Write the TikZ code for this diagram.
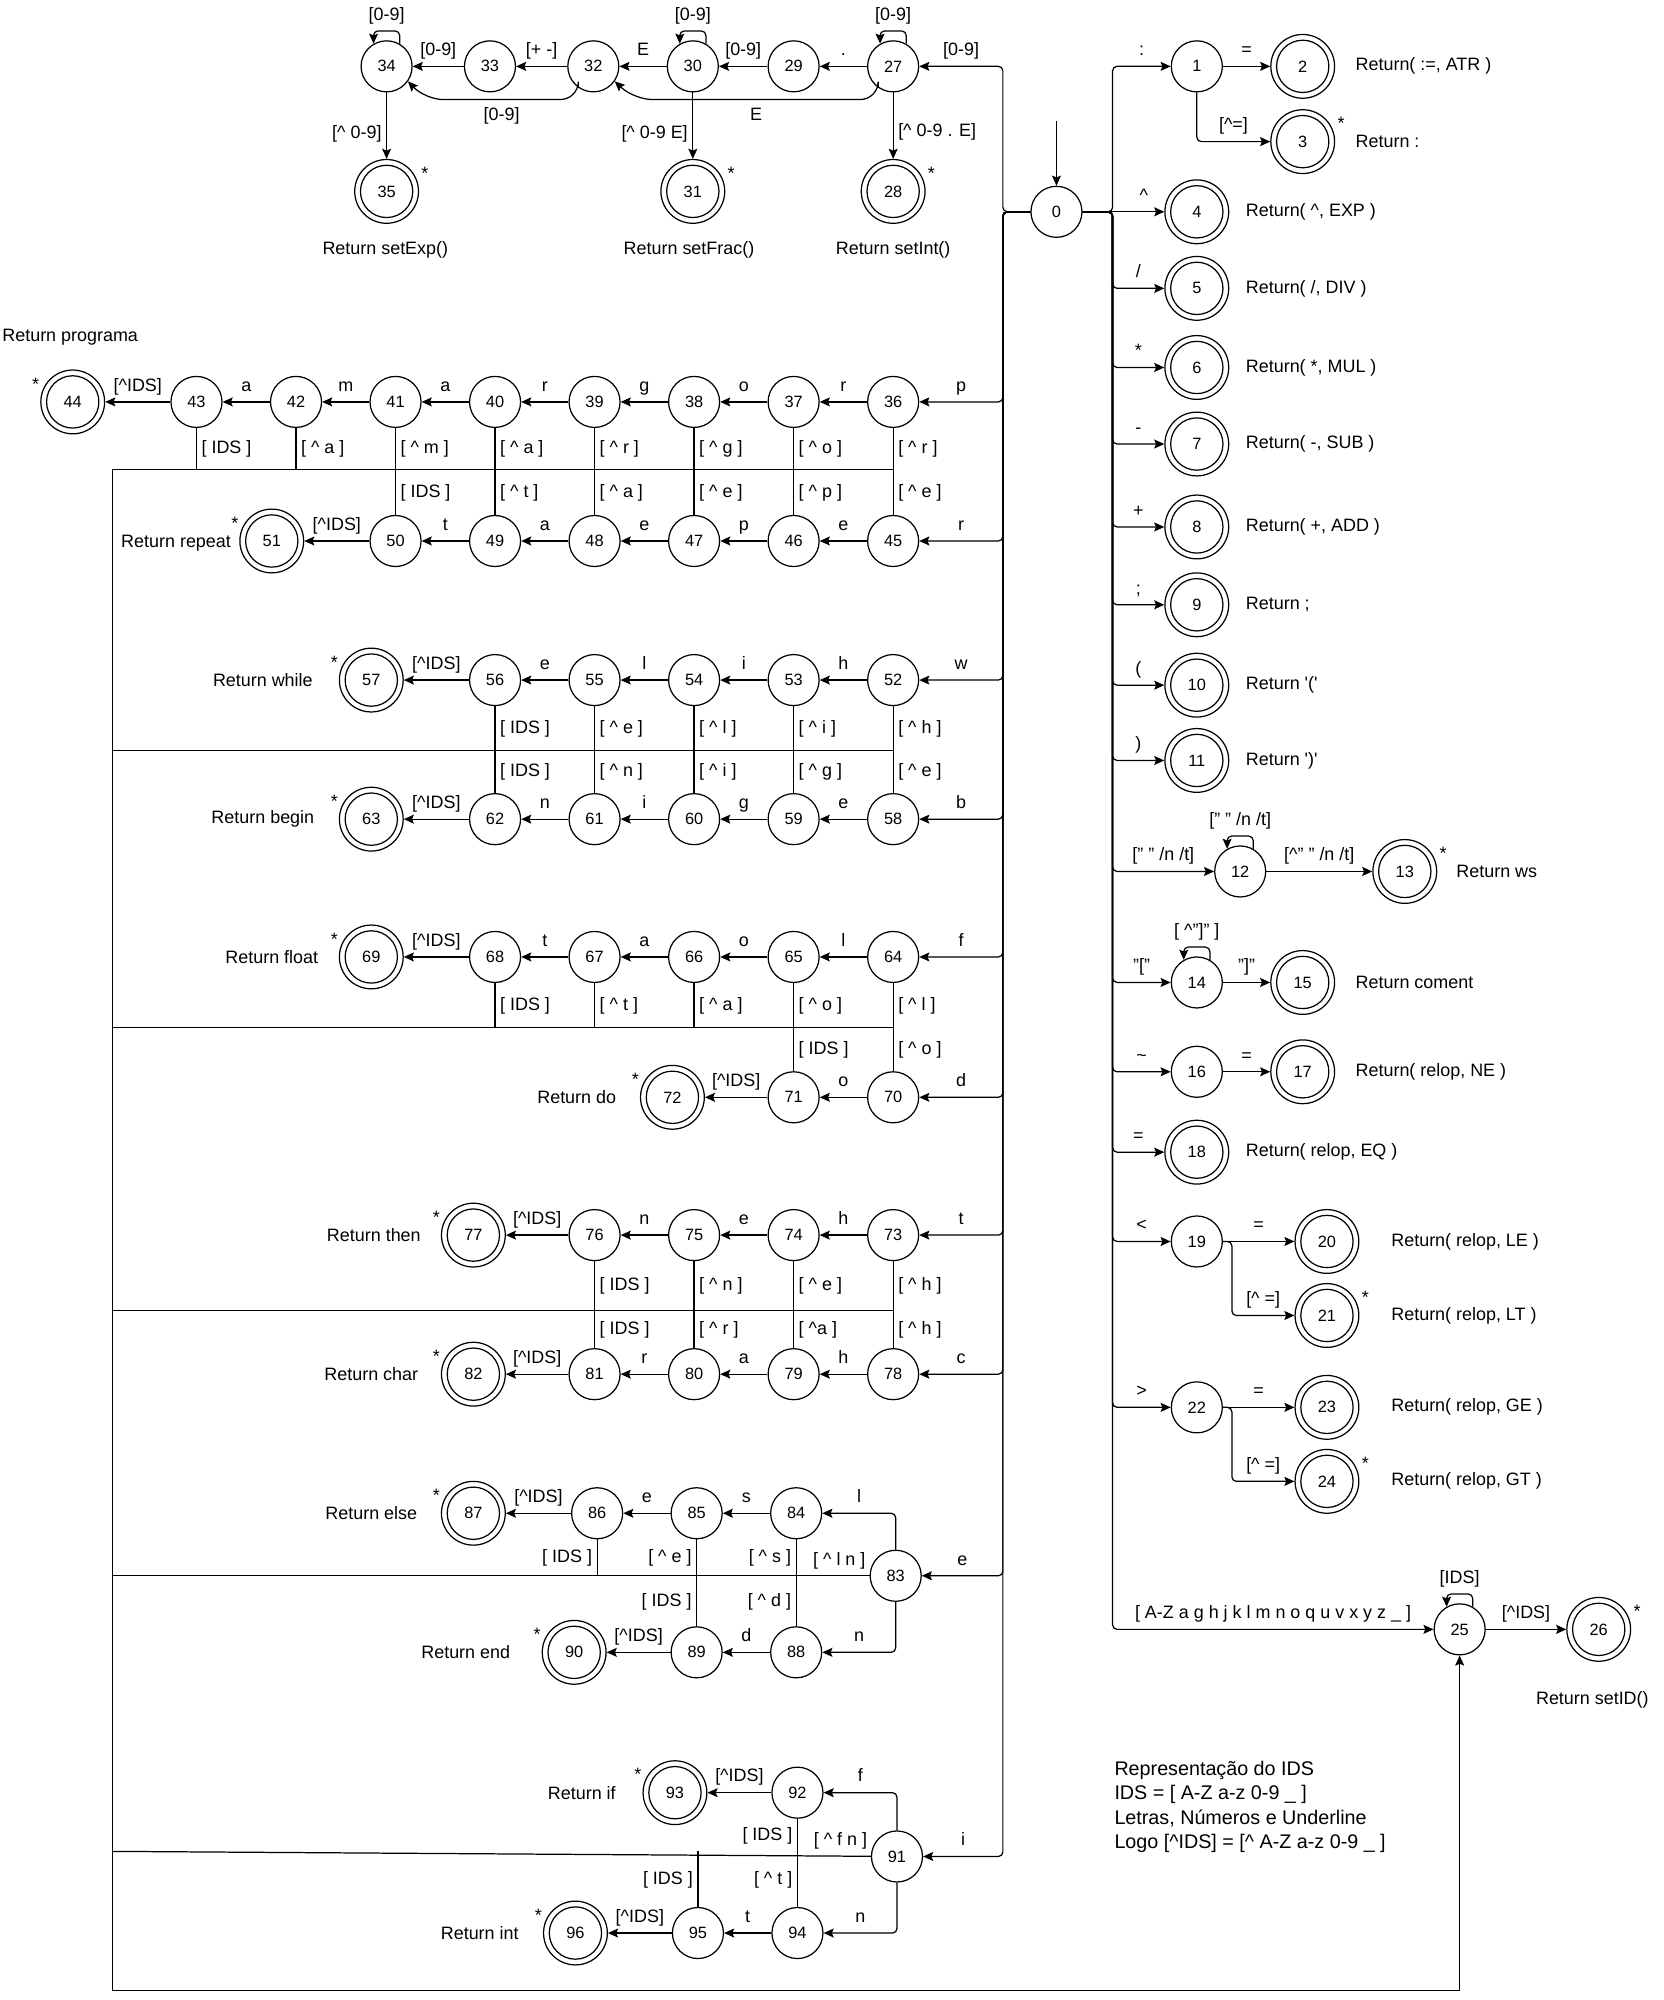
\documentclass[tikz,border=0pt]{standalone}
\usepackage{fontspec}
\setmainfont{Liberation Sans}
\usetikzlibrary{arrows.meta,calc}
\newcommand{\crt}{\textasciicircum}
\newcommand{\nt}[1]{[ \textasciicircum{} #1 ]}
\tikzset{
  st/.style={circle,draw,minimum size=0.8cm,inner sep=0pt,font=\fontsize{7.3}{8}\selectfont},
  acc/.style={st,minimum size=1cm,path picture={\draw (path picture bounding box.center) circle (0.41cm);}},
  arr/.style={-{Stealth[length=4.5pt,width=4pt,inset=0.8pt]}},
  tk/.style={arr,rounded corners=2pt},
  lab/.style={font=\fontsize{8}{9}\selectfont,inner sep=2pt,text height=6pt,text depth=1.5pt},
  la/.style={lab,above=1pt},
  lb/.style={lab,below=1pt},
  lr/.style={lab,right},
  ll/.style={lab,left},
  txt/.style={font=\fontsize{8}{9}\selectfont,inner sep=0pt},
  astk/.style={font=\fontsize{8}{9}\selectfont,inner sep=0pt}
}
\begin{document}
\begin{tikzpicture}[x=0.02cm,y=-0.02cm,line width=0.55pt]
\useasboundingbox (0,0) rectangle (1304,1567.5);
% states
\node[st] (n0) at (828,166) {0};
\foreach \n/\x in {27/700,29/622,30/543,32/465,33/384,34/303} \node[st] (n\n) at (\x,52) {\n};
\foreach \n/\x in {28/700,31/543,35/303} \node[acc] (n\n) at (\x,150) {\n};
\node[st] (n1) at (938,52) {1};
\node[acc] (n2) at (1021,52) {2};
\node[acc] (n3) at (1021,111) {3};
\foreach \n/\y in {4/166,5/226,6/288,7/348,8/413,9/474,10/537,11/596,18/903} \node[acc] (n\n) at (938,\y) {\n};
\node[st] (n12) at (972,683) {12};
\node[acc] (n13) at (1101,683) {13};
\node[st] (n14) at (938,770) {14};
\node[acc] (n15) at (1021,770) {15};
\node[st] (n16) at (938,840) {16};
\node[acc] (n17) at (1021,840) {17};
\node[st] (n19) at (938,973) {19};
\node[acc] (n20) at (1040,973) {20};
\node[acc] (n21) at (1040,1031) {21};
\node[st] (n22) at (938,1103) {22};
\node[acc] (n23) at (1040,1103) {23};
\node[acc] (n24) at (1040,1161) {24};
\node[st] (n25) at (1144,1277) {25};
\node[acc] (n26) at (1253,1277) {26};
\foreach \n/\x in {36/700,37/622,38/544,39/466,40/388,41/310,42/232,43/154} \node[st] (n\n) at (\x,315) {\n};
\foreach \n/\x in {45/700,46/622,47/544,48/466,49/388,50/310} \node[st] (n\n) at (\x,424) {\n};
\foreach \n/\x in {52/700,53/622,54/544,55/466,56/388} \node[st] (n\n) at (\x,533) {\n};
\foreach \n/\x in {58/700,59/622,60/544,61/466,62/388} \node[st] (n\n) at (\x,642) {\n};
\foreach \n/\x in {64/700,65/622,66/544,67/466,68/388} \node[st] (n\n) at (\x,750) {\n};
\foreach \n/\x in {70/700,71/622} \node[st] (n\n) at (\x,860) {\n};
\foreach \n/\x in {73/700,74/622,75/544,76/466} \node[st] (n\n) at (\x,968) {\n};
\foreach \n/\x in {78/700,79/622,80/544,81/466} \node[st] (n\n) at (\x,1077) {\n};
\foreach \n/\x in {84/624,85/546,86/468} \node[st] (n\n) at (\x,1186) {\n};
\node[st] (n83) at (702,1235) {83};
\foreach \n/\x in {88/624,89/546} \node[st] (n\n) at (\x,1295) {\n};
\node[st] (n92) at (625,1405) {92};
\node[st] (n91) at (703,1455) {91};
\foreach \n/\x in {94/625,95/547} \node[st] (n\n) at (\x,1515) {\n};
\foreach \n/\x/\y in {44/57/315,51/213/424,57/291/533,63/291/642,69/291/750,72/527/860,77/371/968,82/371/1077,87/371/1186,90/450/1295,93/529/1405,96/451/1515}
  \node[acc] (n\n) at (\x,\y) {\n};
% asterisks
\foreach \n in {44,51,57,63,69,72,77,82,87,90,93,96} \node[astk] (s\n) at ($(n\n)+(-29,-14)$) {*};
\foreach \n in {35,31,28,3,13,21,24,26} \node[astk] (s\n) at ($(n\n)+(30,-14)$) {*};
% entry and trunks
\coordinate (ini) at (828,95);
\coordinate (tl) at (786,166);
\coordinate (tr) at (872,166);
\draw[arr] (ini) -- (n0);
\foreach \n/\t in {27/{[0-9]},36/p,45/r,52/w,58/b,64/f,70/d,73/t,78/c,83/e,91/i}
  \draw[tk] (n0) -- (tl) |- (n\n) node[la,pos=0.75] {\t};
\draw[arr] (n0) -- node[la,pos=0.75] {\crt} (n4);
\foreach \n/\t in {1/:,5/{/},6/*,7/-,8/+,9/;,10/{(},11/{)},12/{[" " /n /t]},14/{"["},16/{\textasciitilde},18/=,19/<,22/>,25/{[ A-Z a g h j k l m n o q u v x y z \_ ]}}
  \draw[tk] (n0) -- (tr) |- (n\n) node[la,pos=0.75] {\t};
% straight transitions
\foreach \a/\b/\t in {27/29/., 29/30/{[0-9]}, 30/32/E, 32/33/{[+ -]}, 33/34/{[0-9]}, 1/2/=, 12/13/{[\crt" " /n /t]}, 14/15/{"]"}, 16/17/=, 19/20/=, 22/23/=, 25/26/{[\crt IDS]}}
  \draw[arr] (n\a) -- node[la] {\t} (n\b);
\foreach \a/\b/\t in {36/37/r,37/38/o,38/39/g,39/40/r,40/41/a,41/42/m,42/43/a,43/44/{[\crt IDS]},
  45/46/e,46/47/p,47/48/e,48/49/a,49/50/t,50/51/{[\crt IDS]},
  52/53/h,53/54/i,54/55/l,55/56/e,56/57/{[\crt IDS]},
  58/59/e,59/60/g,60/61/i,61/62/n,62/63/{[\crt IDS]},
  64/65/l,65/66/o,66/67/a,67/68/t,68/69/{[\crt IDS]},
  70/71/o,71/72/{[\crt IDS]},
  73/74/h,74/75/e,75/76/n,76/77/{[\crt IDS]},
  78/79/h,79/80/a,80/81/r,81/82/{[\crt IDS]},
  84/85/s,85/86/e,86/87/{[\crt IDS]},
  88/89/d,89/90/{[\crt IDS]},
  92/93/{[\crt IDS]},
  94/95/t,95/96/{[\crt IDS]}}
  \draw[arr] (n\a) -- node[la] {\t} (n\b);
\draw[arr] (n34) -- node[ll,pos=0.62] {[\crt{} 0-9]} (n35);
\draw[arr] (n30) -- node[ll,pos=0.62] {[\crt{} 0-9 E]} (n31);
\draw[arr] (n27) -- node[lr,pos=0.58] {[\crt{} 0-9 . E]} (n28);
\draw[arr,rounded corners=8pt] (n27.235) |- node[lb,pos=0.75] {E} (497,78) -- (n32.-35);
\draw[arr,rounded corners=8pt] (n32.235) |- node[lb,pos=0.75] {[0-9]} (333,78) -- (n34.-35);
% branches
\draw[tk] (n1) |- (n3) node[la,pos=0.75] {[\crt=]};
\draw[tk] (n19.east) -- ++(7,0) |- (n21) node[la,pos=0.75] {[\crt{} =]};
\draw[tk] (n22.east) -- ++(7,0) |- (n24) node[la,pos=0.75] {[\crt{} =]};
\draw[tk] (n83) |- (n84) node[la,pos=0.75] {l};
\draw[tk] (n83) |- (n88) node[la,pos=0.75] {n};
\draw[tk] (n91) |- (n92) node[la,pos=0.75] {f};
\draw[tk] (n91) |- (n94) node[la,pos=0.75] {n};
% loops
\foreach \n/\t in {27/{[0-9]},30/{[0-9]},34/{[0-9]},12/{[" " /n /t]},14/{[ \crt"]" ]},25/{[IDS]}}
  \draw[tk] (n\n.60) -- ++(0,-10) -| (n\n.120) node[la,pos=0.25] {\t};
% lines to the id state
\coordinate (b1) at (88,368);
\coordinate (b2) at (88,588);
\coordinate (b3) at (88,805);
\coordinate (b4) at (88,1027);
\coordinate (b5) at (88,1235);
\coordinate (b6) at (88,1451);
\coordinate (bl) at (88,1560);
\draw (b1 -| n36) -- (b1);
\draw (b2 -| n52) -- (b2);
\draw (b3 -| n64) -- (b3);
\draw (b4 -| n73) -- (b4);
\draw (n83) -- node[la,pos=0.04] {\nt{l n}} (b5);
\draw (n91) -- node[la,pos=0.04] {\nt{f n}} (b6);
\draw (b1) -- (bl);
\draw[arr] (bl) -| (n25);
\draw (n43) -- node[lr] {[ IDS ]} (n43 |- b1);
\draw (n42) -- node[lr] {\nt{a}} (n42 |- b1);
\foreach \a/\b/\s/\t in {41/50/{\nt{m}}/{[ IDS ]},40/49/{\nt{a}}/{\nt{t}},39/48/{\nt{r}}/{\nt{a}},38/47/{\nt{g}}/{\nt{e}},37/46/{\nt{o}}/{\nt{p}},36/45/{\nt{r}}/{\nt{e}}}
  \draw (n\a) -- node[lr] {\s} (n\a |- b1) -- node[lr] {\t} (n\b);
\foreach \a/\b/\s/\t in {56/62/{[ IDS ]}/{[ IDS ]},55/61/{\nt{e}}/{\nt{n}},54/60/{\nt{l}}/{\nt{i}},53/59/{\nt{i}}/{\nt{g}},52/58/{\nt{h}}/{\nt{e}}}
  \draw (n\a) -- node[lr] {\s} (n\a |- b2) -- node[lr] {\t} (n\b);
\draw (n68) -- node[lr] {[ IDS ]} (n68 |- b3);
\draw (n67) -- node[lr] {\nt{t}} (n67 |- b3);
\draw (n66) -- node[lr] {\nt{a}} (n66 |- b3);
\foreach \a/\b/\s/\t in {65/71/{\nt{o}}/{[ IDS ]},64/70/{\nt{l}}/{\nt{o}}}
  \draw (n\a) -- node[lr] {\s} (n\a |- b3) -- node[lr] {\t} (n\b);
\foreach \a/\b/\s/\t in {76/81/{[ IDS ]}/{[ IDS ]},75/80/{\nt{n}}/{\nt{r}},74/79/{\nt{e}}/{[ \crt{}a ]},73/78/{\nt{h}}/{\nt{h}}}
  \draw (n\a) -- node[lr] {\s} (n\a |- b4) -- node[lr] {\t} (n\b);
\draw (n86) -- node[ll] {[ IDS ]} (n86 |- b5);
\draw (n85) -- node[ll] {\nt{e}} (n85 |- b5) -- node[ll] {[ IDS ]} (n89);
\draw (n84) -- node[ll] {\nt{s}} (n84 |- b5) -- node[ll] {\nt{d}} (n88);
\draw (n92) -- node[ll] {[ IDS ]} (n92 |- b6) -- node[ll] {\nt{t}} (n94);
\draw (n95) -- node[ll] {[ IDS ]} (n95 |- b6);
% returns
\node[txt] (r35) at (302,196) {Return setExp()};
\node[txt] (r31) at (540,196) {Return setFrac()};
\node[txt] (r28) at (700,196) {Return setInt()};
\node[txt,anchor=west] (r2) at (1062,52) {Return( :=, ATR )};
\node[txt,anchor=west] (r3) at (1062,111) {Return :};
\node[txt,anchor=west] (r4) at (976,166) {Return( \crt, EXP )};
\node[txt,anchor=west] (r5) at (976,226) {Return( /, DIV )};
\node[txt,anchor=west] (r6) at (976,288) {Return( *, MUL )};
\node[txt,anchor=west] (r7) at (976,348) {Return( -, SUB )};
\node[txt,anchor=west] (r8) at (976,413) {Return( +, ADD )};
\node[txt,anchor=west] (r9) at (976,474) {Return ;};
\node[txt,anchor=west] (r10) at (976,537) {Return \textquotesingle(\textquotesingle};
\node[txt,anchor=west] (r11) at (976,596) {Return \textquotesingle)\textquotesingle};
\node[txt,anchor=west] (r13) at (1141,683) {Return ws};
\node[txt,anchor=west] (r15) at (1062,770) {Return coment};
\node[txt,anchor=west] (r17) at (1062,840) {Return( relop, NE )};
\node[txt,anchor=west] (r18) at (976,903) {Return( relop, EQ )};
\node[txt,anchor=west] (r20) at (1090,973) {Return( relop, LE )};
\node[txt,anchor=west] (r21) at (1090,1031) {Return( relop, LT )};
\node[txt,anchor=west] (r23) at (1090,1103) {Return( relop, GE )};
\node[txt,anchor=west] (r24) at (1090,1161) {Return( relop, GT )};
\node[txt] (r26) at (1248,1332) {Return setID()};
\node[txt] (r44) at (55,264) {Return programa};
\node[txt] (r51) at (138,426) {Return repeat};
\node[txt] (r57) at (206,533) {Return while};
\node[txt] (r63) at (206,642) {Return begin};
\node[txt] (r69) at (213,750) {Return float};
\node[txt] (r72) at (452,860) {Return do};
\node[txt] (r77) at (293,968) {Return then};
\node[txt] (r82) at (291,1077) {Return char};
\node[txt] (r87) at (291,1186) {Return else};
\node[txt] (r90) at (365,1295) {Return end};
\node[txt] (r93) at (456,1405) {Return if};
\node[txt] (r96) at (376,1515) {Return int};
\node[font=\fontsize{8.8}{10.9}\selectfont,align=left,anchor=west,inner sep=0pt] (ids) at (873,1416)
  {Representação do IDS\\IDS = [ A-Z a-z 0-9 \_ ]\\Letras, Números e Underline\\Logo [\crt IDS] = [\crt{} A-Z a-z 0-9 \_ ]};
\end{tikzpicture}
\end{document}
